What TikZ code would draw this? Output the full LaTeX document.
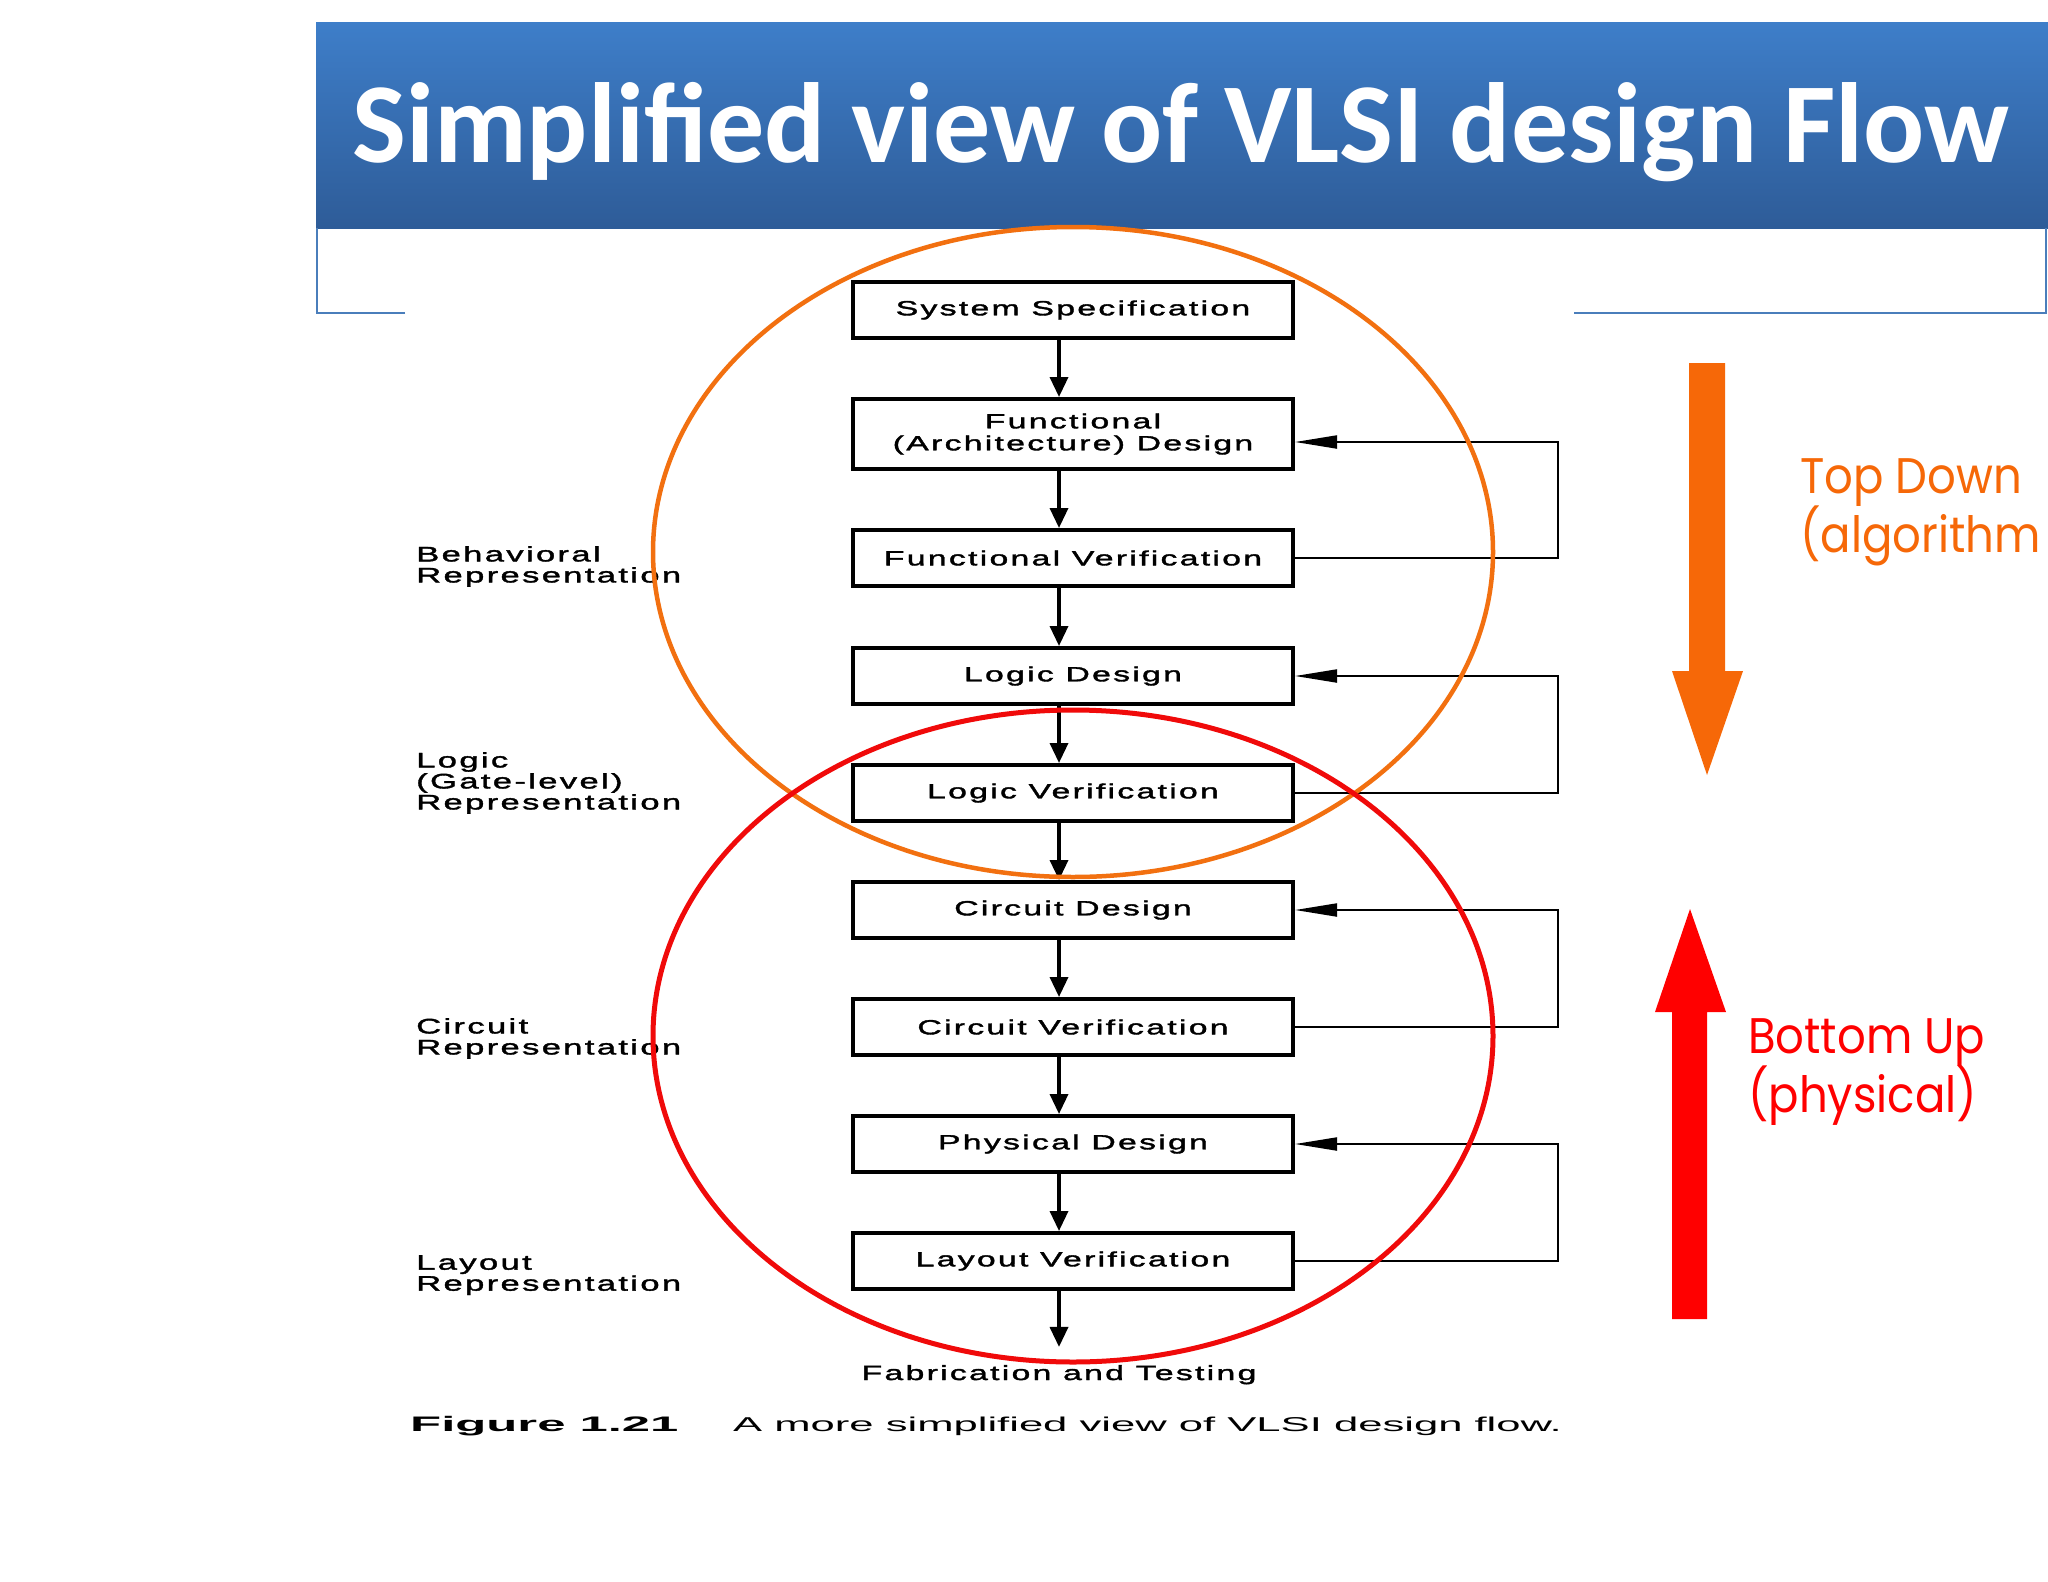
\documentclass[tikz,border=0pt]{standalone}
\usepackage{fontspec}
\usetikzlibrary{arrows.meta,calc}
\newfontfamily\titlefont{Carlito}
\newfontfamily\figfont[FakeStretch=1.65,LetterSpace=11,FakeBold=1.8]{Liberation Sans}
\newfontfamily\capfont[FakeStretch=2.18]{Liberation Sans}
\newfontfamily\capboldfont[FakeStretch=2.42]{Liberation Sans Bold}
\newfontfamily\handfont[FakeStretch=0.9]{Poppins}
\newcommand\figtxt{\figfont\fontsize{20.5}{22}\selectfont}
\newcommand\lbltxt{\figfont\fontsize{21}{21}\selectfont}
\newcommand\handtxt{\handfont\fontsize{50}{58}\selectfont}
\definecolor{barTop}{RGB}{62,126,201}
\definecolor{barBot}{RGB}{46,92,152}
\definecolor{frameC}{RGB}{74,126,187}
\definecolor{orangeA}{RGB}{246,104,8}
\definecolor{orangeE}{RGB}{242,112,16}
\definecolor{redA}{RGB}{255,0,0}
\definecolor{redE}{RGB}{240,10,10}
\begin{document}
\begin{tikzpicture}[x=1pt,y=-1pt,
  box/.style={draw, line width=4pt, minimum width=440pt, minimum height=56pt, inner sep=0pt, align=center, font=\figtxt},
  flow/.style={line width=3.5pt, -{Triangle[length=20pt,width=18pt]}},
  fb/.style={line width=2pt, -{Triangle[length=42pt,width=13pt]}},
  lbl/.style={anchor=north west, inner sep=0pt, align=left, font=\lbltxt},
  frame/.style={draw=frameC, line width=2pt},
  hand/.style={anchor=base west, inner sep=0pt, font=\handtxt}
]
\useasboundingbox (0,0) rectangle (2048,1582);
\fill[white] (0,0) rectangle (2048,1582);

% title bar
\shade[top color=barTop, bottom color=barBot] (316,22) rectangle (2048,228);
\node[anchor=base west, inner sep=0pt, text=white, font=\titlefont\bfseries\fontsize{114}{114}\selectfont] (title) at (352,162) {Simplified view of VLSI design Flow};
\draw[frame] (405,313) -- (317,313) -- (317,228);
\draw[frame] (1574,313) -- (2046,313) -- (2046,228);

% big arrows
\fill[orangeA] (1689,363) -- (1725,363) -- (1725,671) -- (1743,671) -- (1707,775) -- (1672,671) -- (1689,671) -- cycle;
\fill[redA] (1672,1319) -- (1707,1319) -- (1707,1012) -- (1726,1012) -- (1690,909) -- (1655,1012) -- (1672,1012) -- cycle;
\node[hand, text=orangeA] (td1) at (1800,493) {Top Down};
\node[hand, text=orangeA] (td2) at (1800,552) {(algorithm};
\node[hand, text=redA] (bu1) at (1748,1053) {Bottom Up};
\node[hand, text=redA] (bu2) at (1748,1112) {(physical)};

% left labels
\node[lbl] (l1) at (416,546) {Behavioral\\Representation};
\node[lbl] (l2) at (416,752) {Logic\\(Gate-level)\\Representation};
\node[lbl] (l3) at (416,1018) {Circuit\\Representation};
\node[lbl] (l4) at (416,1255) {Layout\\Representation};

% flow boxes
\coordinate (ax) at (1059,0);
\coordinate (rx) at (1558,0);
\node[box] (b1) at (1073,310) {System Specification};
\node[box, minimum height=70pt] (b2) at (1073,434) {Functional\\(Architecture) Design};
\node[box] (b3) at (1073,558) {Functional Verification};
\node[box] (b4) at (1073,676) {Logic Design};
\node[box] (b5) at (1073,793) {Logic Verification};
\node[box] (b6) at (1073,910) {Circuit Design};
\node[box] (b7) at (1073,1027) {Circuit Verification};
\node[box] (b8) at (1073,1144) {Physical Design};
\node[box] (b9) at (1073,1261) {Layout Verification};
\node[anchor=base, inner sep=0pt, font=\figtxt] (fab) at (1059,1380) {Fabrication and Testing};

\draw[flow] (b1.south -| ax) -- (b2.north -| ax);
\draw[flow] (b2.south -| ax) -- (b3.north -| ax);
\draw[flow] (b3.south -| ax) -- (b4.north -| ax);
\draw[flow] (b4.south -| ax) -- (b5.north -| ax);
\draw[flow] (b5.south -| ax) -- (b6.north -| ax);
\draw[flow] (b6.south -| ax) -- (b7.north -| ax);
\draw[flow] (b7.south -| ax) -- (b8.north -| ax);
\draw[flow] (b8.south -| ax) -- (b9.north -| ax);
\draw[flow] (b9.south -| ax) -- ([yshift=18pt]fab.north);

\draw[fb] (b3.east) -- (b3.east -| rx) |- ($(b2.east)+(0,8)$);
\draw[fb] (b5.east) -- (b5.east -| rx) |- (b4.east);
\draw[fb] (b7.east) -- (b7.east -| rx) |- (b6.east);
\draw[fb] (b9.east) -- (b9.east -| rx) |- (b8.east);

% caption
\node[anchor=base west, inner sep=0pt, font=\capboldfont\fontsize{21}{22}\selectfont] (fig) at (410,1431) {Figure 1.21};
\node[anchor=base west, inner sep=0pt, font=\capfont\fontsize{20}{22}\selectfont] (cap) at (733,1431) {A more simplified view of VLSI design flow.};

% ellipses
\draw[orangeE, line width=4.5pt] (1073,552) ellipse [x radius=420pt, y radius=325pt];
\draw[redE, line width=5pt] (1073,1036) ellipse [x radius=420pt, y radius=326pt];
\end{tikzpicture}
\end{document}
